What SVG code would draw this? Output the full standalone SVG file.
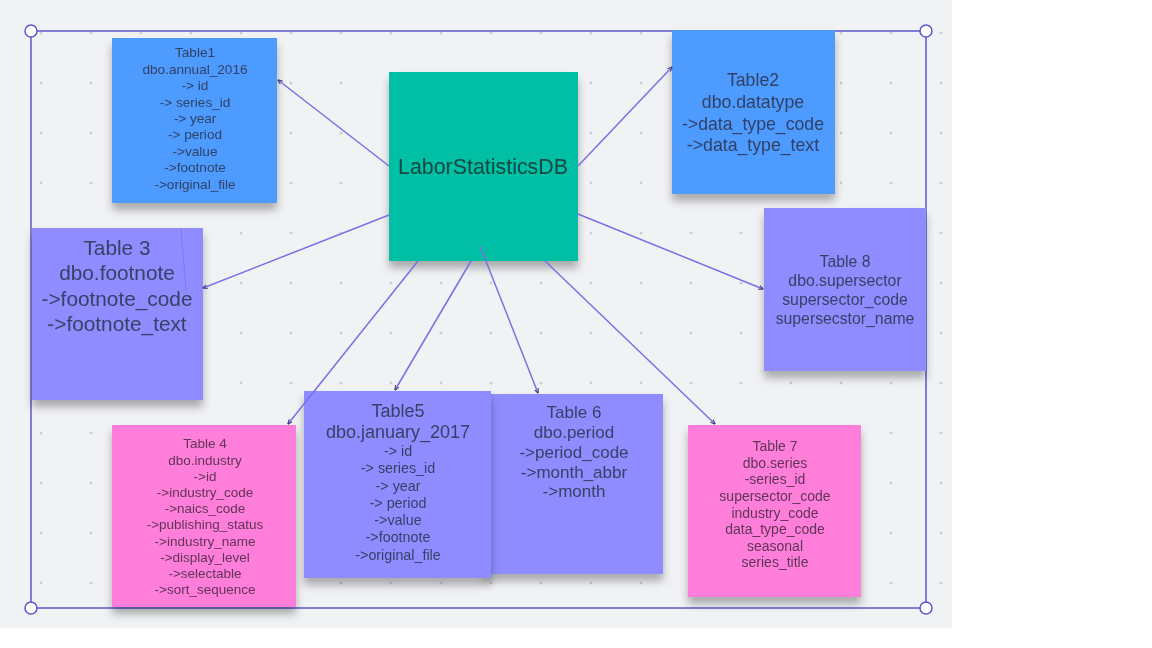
<svg xmlns="http://www.w3.org/2000/svg" width="1152" height="648" viewBox="0 0 1152 648">
<defs>
<style>
.t{font-family:"Liberation Sans",Arial,sans-serif;text-anchor:middle;fill:#2c3450;fill-opacity:0.88}
.pk{fill:#4a2a48}
.c{stroke:#7a70e6;stroke-width:1.5;fill:none;marker-end:url(#ah)}
.box{filter:url(#sh)}
.cr{fill:#ffffff;stroke:#5b57cc;stroke-width:1.5}
</style>
<pattern id="grid" x="39" y="31" width="50" height="50" patternUnits="userSpaceOnUse">
<path d="M0.5 2h3M2 0.5v3" stroke="#b4b8c0" stroke-width="0.8"/>
</pattern>
<filter id="sh" x="-10%" y="-10%" width="120%" height="130%">
<feDropShadow dx="0" dy="7" stdDeviation="4" flood-color="#000" flood-opacity="0.3"/>
</filter>
<marker id="ah" viewBox="0 0 10 10" refX="9" refY="5" markerWidth="5" markerHeight="5" orient="auto" markerUnits="userSpaceOnUse">
<path d="M0 1L10 5L0 9" fill="none" stroke="#3a3a70" stroke-width="2"/>
</marker>
</defs>
<rect width="1152" height="648" fill="#ffffff"/>
<rect x="0" y="0" width="952" height="628" fill="#f1f2f4"/>
<rect x="0" y="0" width="952" height="628" fill="url(#grid)"/>
<rect x="31" y="31" width="895" height="577" fill="none" stroke="#5b57cc" stroke-width="1.5"/>
<g id="handles">
<circle class="cr" cx="31" cy="31" r="6"/>
<circle class="cr" cx="926" cy="31" r="6"/>
<circle class="cr" cx="31" cy="608" r="6"/>
<circle class="cr" cx="926" cy="608" r="6"/>
</g>
<g id="table1" class="box">
<rect x="112" y="38" width="165" height="165" fill="#4d9bff"/>
<g class="t" font-size="13.6">
<text x="195" y="57">Table1</text>
<text x="195" y="74">dbo.annual_2016</text>
<text x="195" y="90">-&gt; id</text>
<text x="195" y="107">-&gt; series_id</text>
<text x="195" y="123">-&gt; year</text>
<text x="195" y="139">-&gt; period</text>
<text x="195" y="156">-&gt;value</text>
<text x="195" y="172">-&gt;footnote</text>
<text x="195" y="189">-&gt;original_file</text>
</g>
</g>
<g id="table2" class="box">
<rect x="672" y="30" width="163" height="164" fill="#4d9bff"/>
<g class="t" font-size="17.7">
<text x="753" y="86">Table2</text>
<text x="753" y="108">dbo.datatype</text>
<text x="753" y="130">-&gt;data_type_code</text>
<text x="753" y="151">-&gt;data_type_text</text>
</g>
</g>
<g id="table3" class="box">
<rect x="32" y="228" width="171" height="172" fill="#8f8cff"/>
<g class="t" font-size="20.8">
<text x="117" y="255">Table 3</text>
<text x="117" y="280">dbo.footnote</text>
<text x="117" y="306">-&gt;footnote_code</text>
<text x="117" y="331">-&gt;footnote_text</text>
</g>
</g>
<g id="table8" class="box">
<rect x="764" y="208" width="162" height="163" fill="#8f8cff"/>
<g class="t" font-size="15.8">
<text x="845" y="267">Table 8</text>
<text x="845" y="286">dbo.supersector</text>
<text x="845" y="305">supersector_code</text>
<text x="845" y="324">supersecstor_name</text>
</g>
</g>
<g id="table4" class="box">
<rect x="112" y="425" width="184" height="182" fill="#ff7ed9"/>
<g class="t pk" font-size="13.5">
<text x="205" y="448">Table 4</text>
<text x="205" y="465">dbo.industry</text>
<text x="205" y="481">-&gt;id</text>
<text x="205" y="497">-&gt;industry_code</text>
<text x="205" y="513">-&gt;naics_code</text>
<text x="205" y="529">-&gt;publishing_status</text>
<text x="205" y="546">-&gt;industry_name</text>
<text x="205" y="562">-&gt;display_level</text>
<text x="205" y="578">-&gt;selectable</text>
<text x="205" y="594">-&gt;sort_sequence</text>
</g>
</g>
<g id="table6" class="box">
<rect x="484" y="394" width="179" height="180" fill="#8f8cff"/>
<g class="t" font-size="17">
<text x="574" y="418">Table 6</text>
<text x="574" y="438">dbo.period</text>
<text x="574" y="458">-&gt;period_code</text>
<text x="574" y="478">-&gt;month_abbr</text>
<text x="574" y="497">-&gt;month</text>
</g>
</g>
<g id="table5" class="box">
<rect x="304" y="391" width="187" height="187" fill="#8f8cff"/>
<g class="t">
<text x="398" y="417" font-size="18">Table5</text>
<text x="398" y="438" font-size="18">dbo.january_2017</text>
<text x="398" y="456" font-size="14.3">-&gt; id</text>
<text x="398" y="473" font-size="14.3">-&gt; series_id</text>
<text x="398" y="491" font-size="14.3">-&gt; year</text>
<text x="398" y="508" font-size="14.3">-&gt; period</text>
<text x="398" y="525" font-size="14.3">-&gt;value</text>
<text x="398" y="542" font-size="14.3">-&gt;footnote</text>
<text x="398" y="560" font-size="14.3">-&gt;original_file</text>
</g>
</g>
<g id="table7" class="box">
<rect x="688" y="425" width="173" height="172" fill="#ff7ed9"/>
<g class="t pk" font-size="14">
<text x="775" y="451">Table 7</text>
<text x="775" y="468">dbo.series</text>
<text x="775" y="484">-series_id</text>
<text x="775" y="501">supersector_code</text>
<text x="775" y="518">industry_code</text>
<text x="775" y="534">data_type_code</text>
<text x="775" y="551">seasonal</text>
<text x="775" y="567">series_title</text>
</g>
</g>
<g id="center" class="box">
<rect x="389" y="72" width="189" height="189" fill="#00bfa5"/>
<text x="483" y="174" font-family="Liberation Sans,Arial,sans-serif" font-size="21.4" text-anchor="middle" fill="#174a42">LaborStatisticsDB</text>
</g>
<g id="connectors">
<line class="c" x1="389" y1="166" x2="278" y2="80"/>
<line class="c" x1="578" y1="166" x2="672" y2="67"/>
<line class="c" x1="389" y1="215" x2="203" y2="288"/>
<line class="c" x1="578" y1="214" x2="763" y2="289"/>
<line class="c" x1="418" y1="261" x2="288" y2="424"/>
<line class="c" x1="471" y1="261" x2="395" y2="390"/>
<line class="c" x1="480" y1="246" x2="538" y2="393"/>
<line class="c" x1="545" y1="261" x2="715" y2="424"/>
<line x1="181" y1="229" x2="186" y2="290" stroke="#7a70e6" stroke-width="1" stroke-opacity="0.7"/>
</g>
</svg>
